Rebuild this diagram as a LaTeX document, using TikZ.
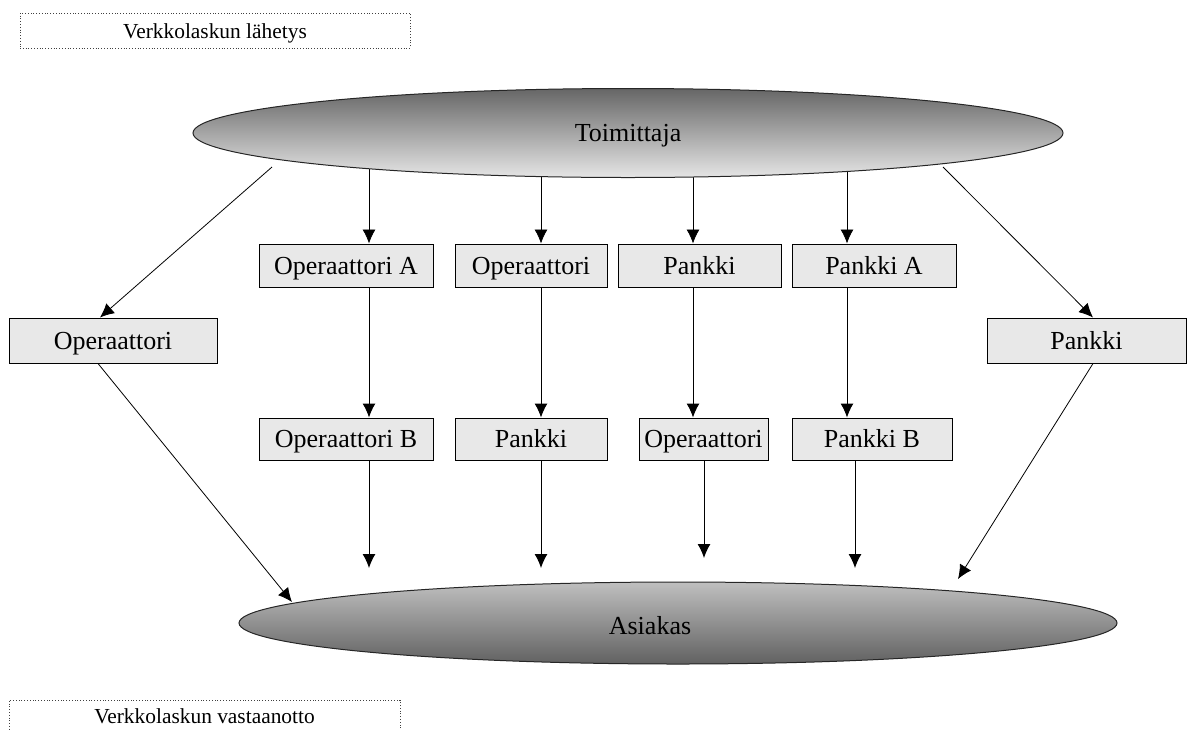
\documentclass[tikz,border=0pt]{standalone}
\usepackage{fontspec}
\setmainfont{Liberation Serif}
\usetikzlibrary{shapes.geometric, backgrounds, arrows.meta, calc}
\tikzset{
	party/.style={draw=black!85, ellipse, inner sep=0pt, line width=0.5pt, font=\fontsize{13}{15}\selectfont, text height=11.5pt, text depth=3pt},
	agent/.style={draw, rectangle, inner sep=0pt, minimum height=21.5pt, fill=black!9, line width=0.5pt, font=\fontsize{13}{15}\selectfont, text height=11.5pt, text depth=3pt},
	% dotted caption boxes at the left edge
	flowlabel/.style={draw=black!75, densely dotted, rectangle, inner sep=0pt, font=\fontsize{10.7}{13}\selectfont, text height=10pt, text depth=2.5pt},
}

\begin{document}
\begin{tikzpicture}[x=0.5pt, y=-0.5pt]
	\useasboundingbox (0,0) rectangle (1188,729);

	\node (send) [flowlabel, minimum width=195pt, minimum height=17.5pt] at (215,30.5) {Verkkolaskun lähetys};
	\node (recv) [flowlabel, minimum width=195.5pt, minimum height=16pt] at (204.5,716) {Verkkolaskun vastaanotto};

	\node (toim) [party, top color=black!60, bottom color=black!10, minimum width=435pt, minimum height=44.5pt] at (628,133) {Toimittaja};
	\node (asiakas) [party, top color=black!25, bottom color=black!62, minimum width=439pt, minimum height=41pt,
		label={[xshift=-14pt, yshift=-1.5pt, font=\fontsize{13}{15}\selectfont, text height=11.5pt, text depth=3pt]center:Asiakas}] at (678,623) {};

	% first row
	\node (opA) [agent, minimum width=87pt] at (346,265.5) {Operaattori A};
	\node (op1) [agent, minimum width=76pt] at (531,265.5) {Operaattori};
	\node (pa1) [agent, minimum width=81.5pt] at (699.5,265.5) {Pankki};
	\node (paA) [agent, minimum width=82pt] at (874,265.5) {Pankki A};

	% direct routes
	\node (opL) [agent, minimum width=104pt, minimum height=22.5pt] at (113,340.5) {Operaattori};
	\node (paR) [agent, minimum width=99.5pt, minimum height=22.5pt] at (1086.5,340.5) {Pankki};

	% second row
	\node (opB) [agent, minimum width=87pt, minimum height=21pt] at (346,439) {Operaattori B};
	\node (pa2) [agent, minimum width=76pt, minimum height=21pt] at (531,439) {Pankki};
	\node (op2) [agent, minimum width=64.5pt, minimum height=21pt] at (703.5,439) {Operaattori};
	\node (paB) [agent, minimum width=80pt, minimum height=21pt] at (872,439) {Pankki B};

	\coordinate (c1) at (369,0);
	\coordinate (c2) at (541,0);
	\coordinate (c3) at (693,0);
	\coordinate (c4) at (847,0);
	\coordinate (e1) at (369,568);
	\coordinate (e2) at (541,568);
	\coordinate (e3) at (704,558);
	\coordinate (e4) at (855,568);
	\coordinate (s1) at (272,167);
	\coordinate (s2) at (943,167);
	\coordinate (t1) at (292,602);
	\coordinate (t2) at (958,579);

	\begin{scope}[on background layer, line width=0.5pt, black, ->, >={Latex[length=7pt, width=6.5pt]}]
		\draw (toim.center -| c1) -- (opA.north -| c1);
		\draw (toim.center -| c2) -- (op1.north -| c2);
		\draw (toim.center -| c3) -- (pa1.north -| c3);
		\draw (toim.center -| c4) -- (paA.north -| c4);
	\end{scope}

	\begin{scope}[line width=0.5pt, black, ->, >={Latex[length=7pt, width=6.5pt]}]
		\draw (opA.south -| c1) -- (opB.north -| c1);
		\draw (op1.south -| c2) -- (pa2.north -| c2);
		\draw (pa1.south -| c3) -- (op2.north -| c3);
		\draw (paA.south -| c4) -- (paB.north -| c4);

		\draw (opB.south -| e1) -- (e1);
		\draw (pa2.south -| e2) -- (e2);
		\draw (op2.south -| e3) -- (e3);
		\draw (paB.south -| e4) -- (e4);

		\draw[line width=0.4pt] (s1) -- ($(opL.north)+(-13,0)$);
		\draw[line width=0.4pt] (s2) -- ($(paR.north)+(6.5,0)$);
		\draw[line width=0.4pt] ($(opL.south)+(-15,0)$) -- (t1);
		\draw[line width=0.4pt] ($(paR.south)+(6.5,0)$) -- (t2);
	\end{scope}
\end{tikzpicture}
\end{document}
